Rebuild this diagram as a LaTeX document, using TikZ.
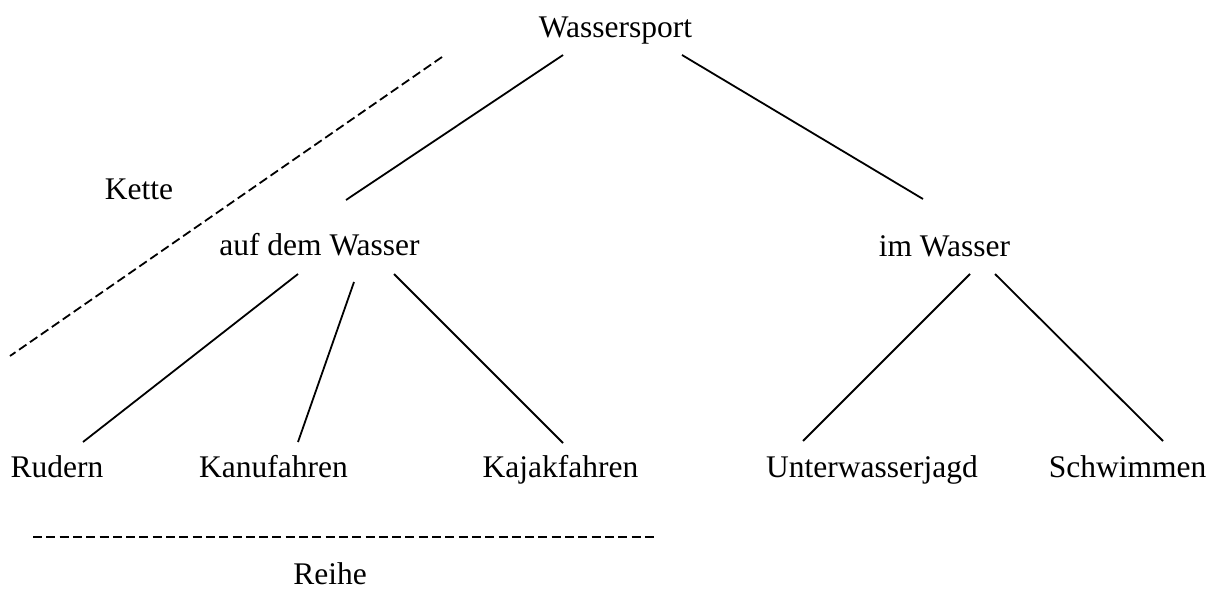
\documentclass[tikz,border=0pt]{standalone}
\usepackage{fontspec}
\setmainfont{Liberation Serif}
\usetikzlibrary{calc}
\begin{document}
\begin{tikzpicture}[x=1pt,y=-1pt,
  lbl/.style={anchor=base,inner sep=0pt,font=\fontsize{31.5}{38}\selectfont},
  edge/.style={line width=1.8pt,line cap=butt},
  guide/.style={line width=1.8pt,dash pattern=on 9pt off 4.3pt}]
\useasboundingbox (0,0) rectangle (1216,589);
% nodes
\node[lbl] (root) at (615.5,37) {Wassersport};
\node[lbl] (kette) at (139,199) {Kette};
\node[lbl] (auf) at (319.5,255) {auf dem Wasser};
\node[lbl] (im) at (944.5,256) {im Wasser};
\node[lbl] (rud) at (57,477) {Rudern};
\node[lbl] (kanu) at (273.5,477) {Kanufahren};
\node[lbl] (kajak) at (560.5,477) {Kajakfahren};
\node[lbl] (unter) at (872,477) {Unterwasserjagd};
\node[lbl] (schw) at (1127.5,477) {Schwimmen};
\node[lbl] (reihe) at (330,584) {Reihe};
% connectors
\draw[edge] ($(root.base)+(-52.5,18)$) -- ($(auf.base)+(26.5,-55)$);
\draw[edge] ($(root.base)+(66.5,18)$) -- ($(im.base)+(-21.5,-57)$);
\draw[edge] ($(auf.base)+(-21.5,19)$) -- ($(rud.base)+(26,-35)$);
\draw[edge] ($(auf.base)+(34.5,27)$) -- ($(kanu.base)+(24.5,-35)$);
\draw[edge] ($(auf.base)+(74.5,19)$) -- ($(kajak.base)+(2.5,-34)$);
\draw[edge] ($(im.base)+(25.5,18)$) -- ($(unter.base)+(-69,-36)$);
\draw[edge] ($(im.base)+(50.5,18)$) -- ($(schw.base)+(35.5,-36)$);
% dashed guides
\coordinate (k1) at (442,57);
\coordinate (k2) at (10,356);
\coordinate (r1) at (33,537);
\coordinate (r2) at (658,537);
\draw[guide] (k1) -- (k2);
\draw[guide] (r1) -- (r2);
\end{tikzpicture}
\end{document}
